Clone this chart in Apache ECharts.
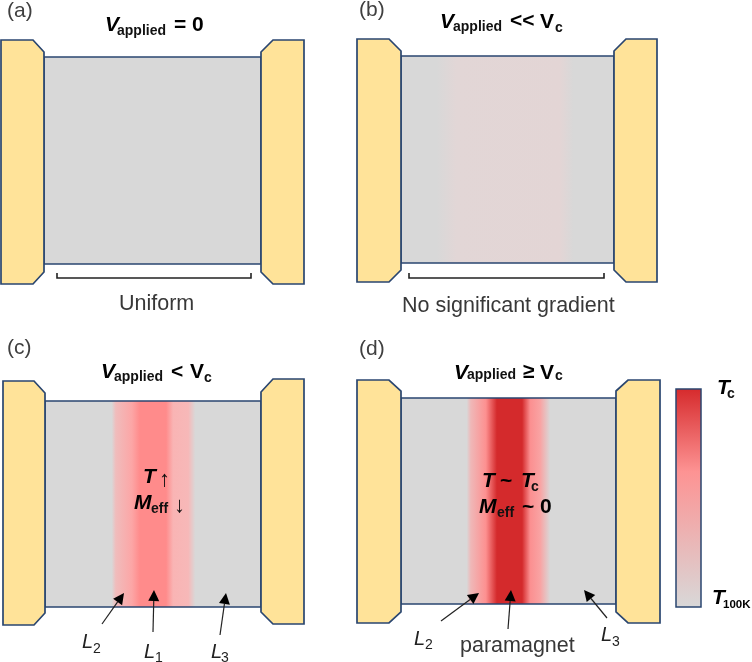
<!DOCTYPE html>
<html><head><meta charset="utf-8">
<style>html,body{margin:0;padding:0;background:#fff}#c{width:752px;height:662px;filter:blur(0.45px)}</style>
<script src="https://cdn.jsdelivr.net/npm/echarts@6/dist/echarts.min.js"></script>
</head><body><div id="c"></div>
<script>
// Electrode outlines
const electrodes = [
  [[1,40],[33,40],[44,52],[44,272],[33,284],[1,284]],
  [[261,52],[273,40],[304,40],[304,284],[273,284],[261,272]],
  [[357,39],[389,39],[401,51],[401,270],[389,282],[357,282]],
  [[614,51],[626,39],[657,39],[657,282],[626,282],[614,270]],
  [[3,381],[34,381],[45,393],[45,613],[34,625],[3,625]],
  [[261,392],[273,379],[304,379],[304,624],[273,624],[261,612]],
  [[357,380],[389,380],[401,391],[401,612],[389,623],[357,623]],
  [[616,391],[628,380],[660,380],[660,623],[628,623],[616,612]]
];
const gray = '#d8d8d8';
const profileB = [[401,gray],[437,'#d8d8d8'],[457,'#e2d6d6'],[560,'#e3d5d5'],[573,'#d8d8d8'],[614,gray]];
const profileC = [[45,gray],[112,gray],[116,'#f0bcbc'],[132,'#fca6a6'],[140,'#ff8b8b'],[166,'#ff8b8b'],[173,'#f9b4b4'],[188,'#f7b8b8'],[195,gray],[261,gray]];
const profileD = [[401,gray],[467,gray],[471,'#efb8b8'],[486,'#fd9090'],[497,'#d42a2c'],[522,'#d42a2c'],[530,'#fb8f90'],[540,'#f9a3a3'],[550,gray],[616,gray]];
const bodies = [
  {x0:44, y0:57, x1:261,y1:264,profile:[[44,gray],[261,gray]]},
  {x0:401,y0:56, x1:614,y1:263,profile:profileB},
  {x0:45, y0:401,x1:261,y1:607,profile:profileC},
  {x0:401,y0:398,x1:616,y1:604,profile:profileD}
];
const colorbarBox = {x0:676,y0:389,x1:701,y1:607};
const colorbarStops = [[0,'#d62a2c'],[0.38,'#fd9393'],[1,gray]];
// Brackets under panels a and b
const brackets = [[57,273,251,278],[409,273,604,278]];
// Pointer arrows: tail x,y then tip x,y
const arrows = [
  [102,624,124,593],[153,632,154,590],[220,635,226,593],
  [441,621,479,593],[508,629,511,590],[607,618,584,590]
];
// Text runs: text, x, baseline, style key
const labels = [
  ['(a)',7,17,'lab'],['(b)',359,16,'lab'],['(c)',7,354,'lab'],['(d)',359,355,'lab'],
  ['V',105,31,'bi'],['applied',117,35,'sub'],['= 0',174,31,'b'],
  ['Uniform',119,310,'reg'],
  ['V',440,28,'bi'],['applied',453,31,'sub'],['<<',510,27,'b'],['V',540,28,'b'],['c',555,32,'sub'],
  ['No significant gradient',402,312,'reg'],
  ['V',101,378,'bi'],['applied',114,381,'sub'],['<',171,378,'b'],['V',190,378,'b'],['c',204,382,'sub'],
  ['T',143,483,'bi'],['↑',159,486,'arr'],
  ['M',134,509,'bi'],['eff',151,513,'sub'],['↓',174,512,'arr'],
  ['L',82,648,'it'],['2',93,653,'it2'],
  ['L',144,658,'it'],['1',155,662,'it2'],
  ['L',211,658,'it'],['3',221,662,'it2'],
  ['V',454,379,'bi'],['applied',467,379,'sub'],['≥',523,378,'b'],['V',540,379,'b'],['c',555,380,'sub'],
  ['T',482,487,'bi'],['~',500,487,'b'],['T',521,487,'bi'],['c',531,491,'sub'],
  ['M',479,513,'bi'],['eff',497,517,'sub'],['~',522,513,'b'],['0',540,513,'b'],
  ['L',414,645,'it'],['2',425,649,'it2'],
  ['paramagnet',460,652,'reg'],
  ['L',601,641,'it'],['3',612,646,'it2'],
  ['T',717,394,'bi'],['c',727,398,'sub'],
  ['T',712,604,'bi'],['100K',723,608,'tiny']
];
const fonts = {
  lab:{size:21,w:'normal',s:'normal',c:'#404040'},
  reg:{size:21.5,w:'normal',s:'normal',c:'#383838'},
  bi:{size:21,w:'bold',s:'italic',c:'#000'},
  b:{size:21,w:'bold',s:'normal',c:'#000'},
  sub:{size:14,w:'bold',s:'normal',c:'#111'},
  tiny:{size:11.5,w:'bold',s:'normal',c:'#000'},
  it:{size:20,w:'normal',s:'italic',c:'#222'},
  it2:{size:14,w:'normal',s:'normal',c:'#222'},
  arr:{size:22,w:'normal',s:'normal',c:'#111'}
};
const lineCol = '#2a4670', gold = '#ffe399';

function idx(a){return a.map((_, i)=>[i]);}
const chart = echarts.init(document.getElementById('c'),null,{renderer:'canvas'});
chart.setOption({
  animation:false, backgroundColor:'#fff',
  grid:{left:0,right:0,top:0,bottom:0},
  xAxis:{type:'value',min:0,max:752,show:false},
  yAxis:{type:'value',min:0,max:662,inverse:true,show:false},
  series:[
    {type:'custom',coordinateSystem:'cartesian2d',data:idx(bodies),silent:true,clip:false,
     renderItem(p,api){
       const b=bodies[api.value(0)];
       const a=api.coord([b.x0,b.y0]),c=api.coord([b.x1,b.y1]);
       const span=b.x1-b.x0;
       return {type:'rect',shape:{x:a[0],y:a[1],width:c[0]-a[0],height:c[1]-a[1]},
         style:{fill:new echarts.graphic.LinearGradient(0,0,1,0,b.profile.map(s=>({offset:(s[0]-b.x0)/span,color:s[1]}))),
                stroke:lineCol,lineWidth:1.5}};
     }},
    {type:'custom',coordinateSystem:'cartesian2d',data:[[0]],silent:true,clip:false,
     renderItem(p,api){
       const b=colorbarBox,a=api.coord([b.x0,b.y0]),c=api.coord([b.x1,b.y1]);
       return {type:'rect',shape:{x:a[0],y:a[1],width:c[0]-a[0],height:c[1]-a[1]},
         style:{fill:new echarts.graphic.LinearGradient(0,0,0,1,colorbarStops.map(s=>({offset:s[0],color:s[1]}))),
                stroke:lineCol,lineWidth:1.5}};
     }},
    {type:'custom',coordinateSystem:'cartesian2d',data:idx(electrodes),silent:true,clip:false,
     renderItem(p,api){
       return {type:'polygon',shape:{points:electrodes[api.value(0)].map(q=>api.coord(q))},
         style:{fill:gold,stroke:lineCol,lineWidth:1.7}};
     }},
    {type:'custom',coordinateSystem:'cartesian2d',data:idx(brackets),silent:true,clip:false,
     renderItem(p,api){
       const b=brackets[api.value(0)];
       return {type:'polyline',shape:{points:[[b[0],b[1]],[b[0],b[3]],[b[2],b[3]],[b[2],b[1]]].map(q=>api.coord(q))},
         style:{fill:null,stroke:'#222',lineWidth:1.6}};
     }},
    {type:'custom',coordinateSystem:'cartesian2d',data:idx(arrows),silent:true,clip:false,
     renderItem(p,api){
       const r=arrows[api.value(0)];
       const t=api.coord([r[0],r[1]]),h=api.coord([r[2],r[3]]);
       const dx=h[0]-t[0],dy=h[1]-t[1],L=Math.hypot(dx,dy),ux=dx/L,uy=dy/L;
       const bx=h[0]-ux*11,by=h[1]-uy*11,hw=5.5;
       return {type:'group',children:[
         {type:'line',shape:{x1:t[0],y1:t[1],x2:bx,y2:by},style:{stroke:'#222',lineWidth:1.2}},
         {type:'polygon',shape:{points:[h,[bx-uy*hw,by+ux*hw],[bx+uy*hw,by-ux*hw]]},style:{fill:'#000'}}
       ]};
     }},
    {type:'custom',coordinateSystem:'cartesian2d',data:idx(labels),silent:true,clip:false,
     renderItem(p,api){
       const l=labels[api.value(0)],f=fonts[l[3]],q=api.coord([l[1],l[2]]);
       return {type:'text',style:{text:l[0],x:q[0],y:q[1]-0.27*f.size,align:'left',verticalAlign:'middle',
         fill:f.c,font:`${f.s} ${f.w} ${f.size}px "Liberation Sans"`}};
     }}
  ]
});
</script></body></html>
